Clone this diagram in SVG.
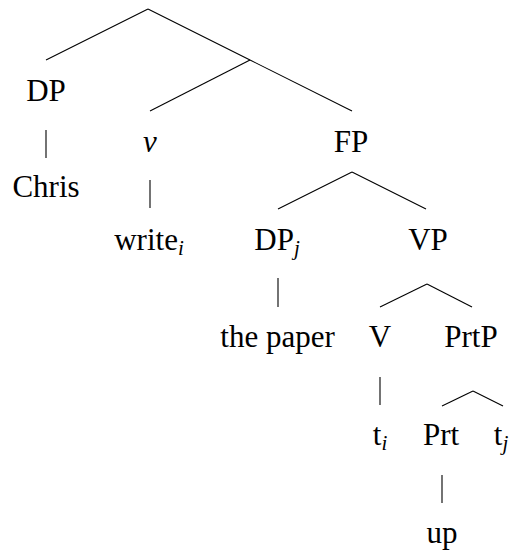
<svg xmlns="http://www.w3.org/2000/svg" width="511" height="552" viewBox="0 0 511 552">
  <style>
    .it { font-style: italic; }
    .sub { font-style: italic; font-size: 21px; }
    .edge { stroke: #000; stroke-width: 1.1; fill: none; }
  </style>

  <!-- branches -->
  <g id="connectors">
    <line class="edge" x1="148" y1="9" x2="46" y2="60"/>
    <line class="edge" x1="148" y1="9" x2="250" y2="60"/>
    <line class="edge" x1="250" y1="60" x2="150" y2="111"/>
    <line class="edge" x1="250" y1="60" x2="352" y2="111"/>
    <line class="edge" x1="46" y1="130" x2="46" y2="158"/>
    <line class="edge" x1="150" y1="180" x2="150" y2="208"/>
    <line class="edge" x1="352" y1="172" x2="278" y2="209"/>
    <line class="edge" x1="352" y1="172" x2="426" y2="209"/>
    <line class="edge" x1="278" y1="278" x2="278" y2="307"/>
    <line class="edge" x1="427" y1="284" x2="380" y2="307"/>
    <line class="edge" x1="427" y1="284" x2="472" y2="307"/>
    <line class="edge" x1="380" y1="377" x2="380" y2="405"/>
    <line class="edge" x1="473" y1="391" x2="442" y2="406"/>
    <line class="edge" x1="473" y1="391" x2="503" y2="406"/>
    <line class="edge" x1="442" y1="475" x2="442" y2="503"/>
  </g>

  <!-- nodes -->
  <g font-family="Liberation Serif, serif" font-size="31" fill="#000" text-anchor="middle">
    <g id="node-dp"><text x="46" y="101">DP</text></g>
    <g id="node-chris"><text x="46" y="197">Chris</text></g>
    <g id="node-v"><text class="it" x="150" y="152">v</text></g>
    <g id="node-write"><text x="149" y="250">write<tspan class="sub" dy="5">i</tspan></text></g>
    <g id="node-fp"><text x="351" y="152">FP</text></g>
    <g id="node-dpj"><text x="277" y="250">DP<tspan class="sub" dy="5">j</tspan></text></g>
    <g id="node-vp"><text x="428" y="250">VP</text></g>
    <g id="node-thepaper"><text x="277.5" y="347">the paper</text></g>
    <g id="node-vhead"><text x="380" y="347">V</text></g>
    <g id="node-prtp"><text x="471" y="347">PrtP</text></g>
    <g id="node-ti"><text x="380" y="445">t<tspan class="sub" dy="5">i</tspan></text></g>
    <g id="node-prt"><text x="441" y="445">Prt</text></g>
    <g id="node-tj"><text x="501" y="445">t<tspan class="sub" dy="5">j</tspan></text></g>
    <g id="node-up"><text x="442" y="543">up</text></g>
  </g>
</svg>
